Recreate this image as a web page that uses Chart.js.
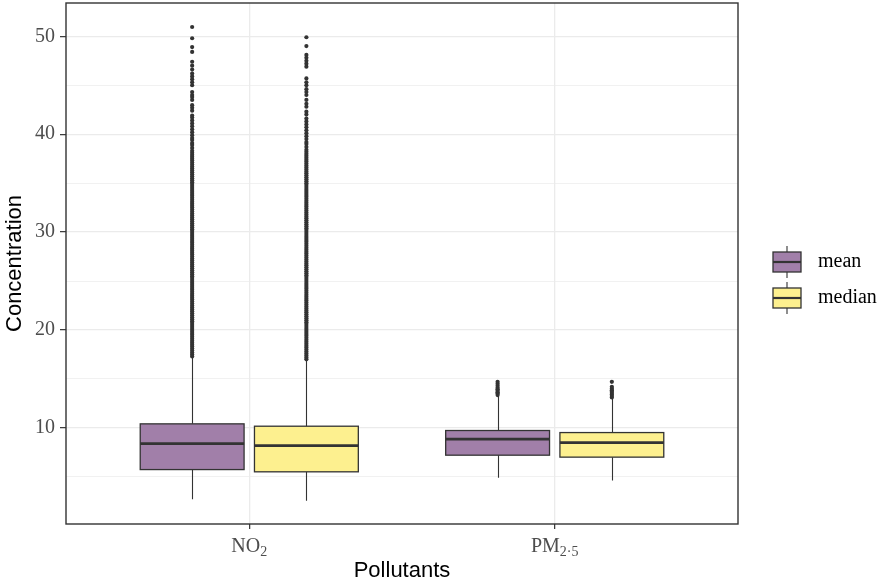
<!DOCTYPE html>
<html>
<head>
<meta charset="utf-8">
<script src="https://cdn.jsdelivr.net/npm/chart.js@4.4.1/dist/chart.umd.min.js"></script>
<style>
  html, body { margin: 0; padding: 0; background: #fff; }
  #wrap { width: 879px; height: 583px; }
</style>
</head>
<body>
<div id="wrap"><canvas id="chart" width="879" height="583"></canvas></div>
<script>
// categories and tick labels (main text + subscript)
const categories = ["NO", "PM"];
const categorySubs = ["2", "2\u00b75"];
const seriesNames = ["mean", "median"];
const yTicks = [5, 10, 15, 20, 25, 30, 35, 40, 45, 50];

// box stats per category: [lower whisker, q1, median, q3, upper whisker]
const meanStats = [
  [2.72, 5.74, 8.40, 10.41, 17.2],
  [4.90, 7.21, 8.85, 9.73, 13.27],
];
const medianStats = [
  [2.55, 5.51, 8.19, 10.17, 16.94],
  [4.62, 7.01, 8.50, 9.52, 12.99],
];

// outliers (the lower part is a solid column of points)
const meanOutliersNO2 = [
  17.3, 17.5, 17.7, 17.9, 18.1, 18.3, 18.5, 18.7, 18.9, 19.1, 19.3, 19.5, 19.7, 19.9,
  20.1, 20.3, 20.5, 20.7, 20.9, 21.1, 21.3, 21.5, 21.7, 21.9, 22.1, 22.3, 22.5, 22.7,
  22.9, 23.1, 23.3, 23.5, 23.7, 23.9, 24.1, 24.3, 24.5, 24.7, 24.9, 25.1, 25.3, 25.5,
  25.7, 25.9, 26.1, 26.3, 26.5, 26.7, 26.9, 27.1, 27.3, 27.5, 27.7, 27.9, 28.1, 28.3,
  28.5, 28.7, 28.9, 29.1, 29.3, 29.5, 29.7, 29.9, 30.1, 30.3, 30.5, 30.7, 30.9, 31.1,
  31.3, 31.5, 31.7, 31.9, 32.1, 32.3, 32.5, 32.7, 32.9, 33.1, 33.3, 33.5, 33.7, 33.9,
  34.1, 34.3, 34.5, 34.7, 34.9, 35.1, 35.3, 35.5, 35.7, 35.9, 36.1, 36.3, 36.5, 36.7,
  36.9, 37.1, 37.3, 37.5, 37.7, 37.9, 38.1, 38.3, 38.6, 38.9, 39.1, 39.4, 39.6, 39.9,
  40.2, 40.5, 40.8, 41.1, 41.4, 41.7, 41.9, 42.4, 42.7, 42.96, 43.5, 43.8, 44.0, 44.3,
  45.0, 45.3, 45.6, 45.9, 46.2, 46.6, 47.0, 47.4, 48.4, 48.9, 49.8, 50.95,
];
const medianOutliersNO2 = [
  17.0, 17.2, 17.4, 17.6, 17.8, 18.0, 18.2, 18.4, 18.6, 18.8, 19.0, 19.2, 19.4, 19.6,
  19.8, 20.0, 20.2, 20.4, 20.6, 20.8, 21.0, 21.2, 21.4, 21.6, 21.8, 22.0, 22.2, 22.4,
  22.6, 22.8, 23.0, 23.2, 23.4, 23.6, 23.8, 24.0, 24.2, 24.4, 24.6, 24.8, 25.0, 25.2,
  25.4, 25.6, 25.8, 26.0, 26.2, 26.4, 26.6, 26.8, 27.0, 27.2, 27.4, 27.6, 27.8, 28.0,
  28.2, 28.4, 28.6, 28.8, 29.0, 29.2, 29.4, 29.6, 29.8, 30.0, 30.2, 30.4, 30.6, 30.8,
  31.0, 31.2, 31.4, 31.6, 31.8, 32.0, 32.2, 32.4, 32.6, 32.8, 33.0, 33.2, 33.4, 33.6,
  33.8, 34.0, 34.2, 34.4, 34.6, 34.8, 35.0, 35.2, 35.4, 35.6, 35.8, 36.0, 36.2, 36.4,
  36.6, 36.8, 37.0, 37.2, 37.4, 37.6, 37.8, 38.0, 38.2, 38.4, 38.7, 39.0, 39.2, 39.5,
  39.8, 40.1, 40.4, 40.7, 41.0, 41.3, 41.6, 42.0, 42.3, 42.8, 43.1, 43.5, 44.0, 44.3,
  44.6, 45.0, 45.3, 45.7, 46.9, 47.2, 47.5, 47.8, 48.1, 49.0, 49.9,
];
const meanOutliersPM = [13.35, 13.5, 13.65, 13.8, 13.95, 14.1, 14.3, 14.5, 14.7];
const medianOutliersPM = [13.1, 13.25, 13.4, 13.55, 13.7, 13.85, 14.0, 14.2, 14.7];

const FILLS = ["#A17FA9", "#FDF08F"];
const INK = "#333333";
const DODGE = 0.187;
const BOX_HALF = 0.17;
const SERIF = "'Liberation Serif', 'Times New Roman', serif";
const SANS = "'Liberation Sans', Arial, sans-serif";

const stats = [meanStats, medianStats];
const offsets = [-DODGE, DODGE];

function outlierPoints(values, cat, s) {
  return values.map((y) => ({ x: cat + 1 + offsets[s], y }));
}

const datasets = [
  { label: "mean NO2", data: outlierPoints(meanOutliersNO2, 0, 0) },
  { label: "median NO2", data: outlierPoints(medianOutliersNO2, 0, 1) },
  { label: "mean PM", data: outlierPoints(meanOutliersPM, 1, 0) },
  { label: "median PM", data: outlierPoints(medianOutliersPM, 1, 1) },
].map((ds) => ({
  ...ds,
  pointRadius: 2.1,
  pointHoverRadius: 2.1,
  pointBackgroundColor: INK,
  pointBorderWidth: 0,
  showLine: false,
}));

function drawBox(ctx, xs, ys, center, s, fill) {
  const l = xs.getPixelForValue(center - BOX_HALF);
  const r = xs.getPixelForValue(center + BOX_HALF);
  const c = Math.round(xs.getPixelForValue(center)) + 0.5;
  const [lo, q1, med, q3, hi] = s.map((v) => ys.getPixelForValue(v));
  ctx.strokeStyle = INK;
  ctx.lineWidth = 1.1;
  ctx.beginPath();
  ctx.moveTo(c, q3); ctx.lineTo(c, hi);
  ctx.moveTo(c, q1); ctx.lineTo(c, lo);
  ctx.stroke();
  ctx.fillStyle = fill;
  ctx.fillRect(l, q3, r - l, q1 - q3);
  ctx.lineWidth = 1.3;
  ctx.strokeRect(l, q3, r - l, q1 - q3);
  ctx.lineWidth = 2.8;
  ctx.beginPath();
  ctx.moveTo(l, med); ctx.lineTo(r, med);
  ctx.stroke();
}

function drawSubLabel(ctx, main, sub, cx, baseline) {
  ctx.font = "20px " + SERIF;
  const w1 = ctx.measureText(main).width;
  ctx.font = "14px " + SERIF;
  const w2 = ctx.measureText(sub).width;
  const x0 = cx - (w1 + w2) / 2;
  ctx.fillStyle = "#4D4D4D";
  ctx.textAlign = "left";
  ctx.textBaseline = "alphabetic";
  ctx.font = "20px " + SERIF;
  ctx.fillText(main, x0, baseline);
  ctx.font = "14px " + SERIF;
  ctx.fillText(sub, x0 + w1, baseline + 4);
}

const boxPlugin = {
  id: "boxes",
  beforeDatasetsDraw(chart) {
    const { ctx, scales } = chart;
    ctx.save();
    categories.forEach((_, ci) => {
      stats.forEach((st, si) => {
        drawBox(ctx, scales.x, scales.y, ci + 1 + offsets[si], st[ci], FILLS[si]);
      });
    });
    ctx.restore();
  },
  afterDraw(chart) {
    const { ctx, chartArea: a, scales } = chart;
    ctx.save();
    // panel border
    ctx.strokeStyle = INK;
    ctx.lineWidth = 1.4;
    ctx.strokeRect(a.left, a.top, a.right - a.left, a.bottom - a.top);

    // x tick labels with subscripts
    categories.forEach((c, i) => {
      drawSubLabel(ctx, c, categorySubs[i], scales.x.getPixelForValue(i + 1), a.bottom + 28);
    });

    // legend with boxplot keys
    const kx = 773, kw = 28;
    seriesNames.forEach((name, i) => {
      const cy = 262 + i * 36;
      const top = cy - 10, h = 20;
      const mid = kx + kw / 2;
      ctx.strokeStyle = INK;
      ctx.lineWidth = 1.1;
      ctx.beginPath();
      ctx.moveTo(mid, top - 6); ctx.lineTo(mid, top);
      ctx.moveTo(mid, top + h); ctx.lineTo(mid, top + h + 6);
      ctx.stroke();
      ctx.fillStyle = FILLS[i];
      ctx.fillRect(kx, top, kw, h);
      ctx.lineWidth = 1.3;
      ctx.strokeRect(kx, top, kw, h);
      ctx.lineWidth = 2.2;
      ctx.beginPath();
      ctx.moveTo(kx, cy); ctx.lineTo(kx + kw, cy);
      ctx.stroke();
      ctx.fillStyle = "#000";
      ctx.font = "20px " + SERIF;
      ctx.textAlign = "left";
      ctx.textBaseline = "middle";
      ctx.fillText(name, 818, cy);
    });
    ctx.restore();
  },
};

new Chart(document.getElementById("chart").getContext("2d"), {
  type: "scatter",
  data: { datasets },
  options: {
    responsive: false,
    animation: false,
    events: [],
    layout: { padding: { top: 3, right: 141, left: 0, bottom: 0 } },
    plugins: { legend: { display: false }, tooltip: { enabled: false } },
    scales: {
      x: {
        type: "linear",
        min: 0.4,
        max: 2.6,
        afterBuildTicks: (scale) => { scale.ticks = [{ value: 1 }, { value: 2 }]; },
        afterFit: (scale) => {
          scale.height = 59;
          scale.paddingLeft = 0;
          scale.paddingRight = 0;
        },
        grid: { color: "#EBEBEB", lineWidth: 1.3, tickColor: INK, tickLength: 5, tickWidth: 1.2 },
        border: { display: false },
        ticks: { callback: () => "", font: { size: 1 } },
        title: {
          display: true,
          text: "Pollutants",
          color: "#000",
          font: { family: SANS, size: 22, lineHeight: 1 },
          padding: { top: 0, bottom: 1 },
        },
      },
      y: {
        min: 0.18,
        max: 53.4,
        afterBuildTicks: (scale) => { scale.ticks = yTicks.map((v) => ({ value: v })); },
        afterFit: (scale) => {
          scale.width = 66;
          scale.paddingTop = 0;
          scale.paddingBottom = 0;
        },
        grid: {
          color: "#EBEBEB",
          lineWidth: (c) => (c.tick && c.tick.value % 10 === 0 ? 1.3 : 0.7),
          tickColor: (c) => (c.tick && c.tick.value % 10 === 0 ? INK : "rgba(0,0,0,0)"),
          tickLength: 6,
          tickWidth: 1.2,
        },
        border: { display: false },
        ticks: {
          callback: (v) => (v % 10 === 0 ? String(v) : ""),
          color: "#4D4D4D",
          font: { family: SERIF, size: 20 },
          padding: 5,
        },
        title: {
          display: true,
          text: "Concentration",
          color: "#000",
          font: { family: SANS, size: 22, lineHeight: 1 },
          padding: { top: 4, bottom: 0 },
        },
      },
    },
  },
  plugins: [boxPlugin],
});
</script>
</body>
</html>
